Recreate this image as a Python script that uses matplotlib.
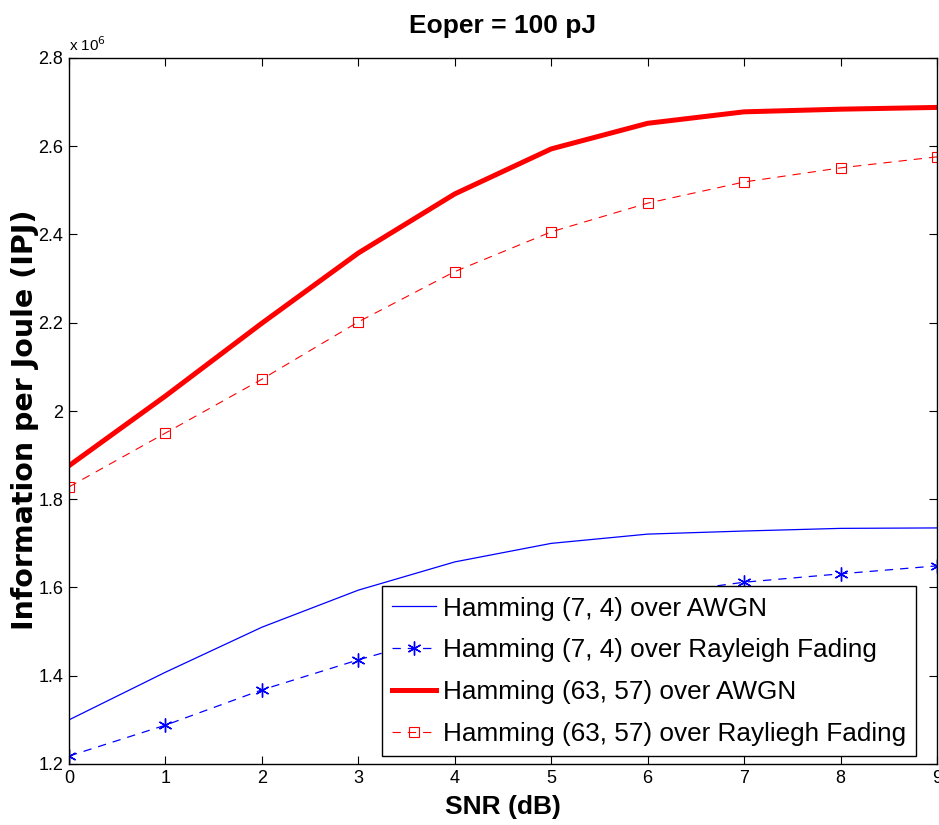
import matplotlib
matplotlib.use("Agg")
import matplotlib.pyplot as plt
from matplotlib.ticker import FuncFormatter, MultipleLocator

snr = [0, 1, 2, 3, 4, 5, 6, 7, 8, 9]
# values in units of 1e6 information bits per joule
h74_awgn = [1.300, 1.408, 1.510, 1.594, 1.658, 1.700, 1.721, 1.728, 1.734, 1.735]
h74_ray = [1.218, 1.288, 1.368, 1.436, 1.498, 1.545, 1.583, 1.612, 1.631, 1.649]
h6357_awgn = [1.876, 2.034, 2.199, 2.358, 2.492, 2.594, 2.652, 2.678, 2.684, 2.688]
h6357_ray = [1.828, 1.950, 2.072, 2.202, 2.316, 2.406, 2.471, 2.519, 2.551, 2.576]
labels = ["Hamming (7, 4) over AWGN",
          "Hamming (7, 4) over Rayleigh Fading",
          "Hamming (63, 57) over AWGN",
          "Hamming (63, 57) over Rayliegh Fading"]

plt.rcParams['font.family'] = ['Liberation Sans', 'DejaVu Sans']
plt.rcParams['lines.scale_dashes'] = False

fig = plt.figure(figsize=(9.39, 8.25), dpi=100)
ax = fig.add_axes([69/939, 61/825, 868/939, 706/825])

ax.plot(snr, h74_awgn, color=(0, 0, 1), lw=0.9, label=labels[0])
ax.plot(snr, h74_ray, color=(0, 0, 1), lw=0.9, ls=(0, (6, 5)), marker=(6, 2, 0),
        markersize=10, markeredgewidth=1.0, label=labels[1])
ax.plot(snr, h6357_awgn, color=(1, 0, 0), lw=3.6, label=labels[2])
ax.plot(snr, h6357_ray, color=(1, 0, 0), lw=0.8, ls=(0, (6, 5)), marker='s',
        markersize=7.5, markerfacecolor='none', markeredgewidth=0.8, label=labels[3])

ax.set_xlim(0, 9)
ax.set_ylim(1.2, 2.8)
ax.xaxis.set_major_locator(MultipleLocator(1))
ax.yaxis.set_major_locator(MultipleLocator(0.2))
ax.yaxis.set_major_formatter(FuncFormatter(lambda v, p: f"{v:g}"))

ax.tick_params(direction='in', length=6, width=0.8, top=True, right=True,
               labelsize=13, pad=4, colors='black')
for sp in ax.spines.values():
    sp.set_linewidth(1.0)

ax.text(0.0, 1.006, r"x 10$^{6}$", transform=ax.transAxes, fontsize=11,
        ha='left', va='bottom')

ax.set_title("Eoper = 100 pJ", fontsize=19, fontweight='bold', pad=18)
ax.set_xlabel("SNR (dB)", fontsize=19, fontweight='bold', labelpad=6)
ax.set_ylabel("Information per Joule (IPJ)", fontsize=20.5, fontweight='bold',
              family=['DejaVu Sans'])
ax.yaxis.set_label_coords(-0.034, 0.487)

leg = ax.legend(loc='lower right', bbox_to_anchor=(0.976, 0.011),
                prop={'size': 18.8},
                frameon=True, fancybox=False, framealpha=1, edgecolor='black',
                handlelength=1.67, borderpad=0.4, labelspacing=0.68,
                handletextpad=0.25, borderaxespad=0)
leg.get_frame().set_linewidth(1.0)

fig.savefig("out.png", dpi=100)
